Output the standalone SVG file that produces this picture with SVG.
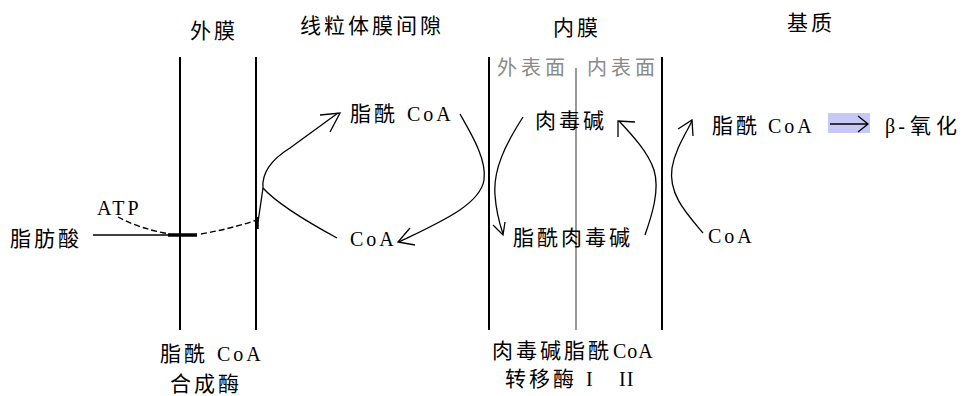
<svg xmlns="http://www.w3.org/2000/svg" width="969" height="396" viewBox="0 0 969 396">
<style>
text{font-family:"Noto Sans CJK SC","Liberation Sans",sans-serif;font-size:21px;letter-spacing:3px;fill:#000}
.l{font-family:"Liberation Serif",serif;font-size:20px;letter-spacing:3px}
.g{fill:#8a8a8a;font-size:20px;letter-spacing:4px}
.m{stroke:#000;stroke-width:2;fill:none}
.gm{stroke:#999;stroke-width:2;fill:none}
.c{stroke:#000;stroke-width:1.3;fill:none}
.d{stroke:#000;stroke-width:1.4;fill:none;stroke-dasharray:6 3}
.th{stroke:#000;stroke-width:3.5;fill:none}
</style>
<rect width="969" height="396" fill="#fff"/>
<g id="membranes">
<line class="m" x1="180" y1="57" x2="180" y2="330"/>
<line class="m" x1="256" y1="57" x2="256" y2="330"/>
<line class="m" x1="489" y1="57" x2="489" y2="330"/>
<line class="gm" x1="576" y1="68" x2="576" y2="330"/>
<line class="m" x1="662" y1="57" x2="662" y2="330"/>
</g>
<g id="titles">
<text x="190" y="38">外膜</text>
<text x="300" y="33">线粒体膜间隙</text>
<text x="553" y="35">内膜</text>
<text x="787" y="30">基质</text>
<text class="g" x="497" y="75">外表面</text>
<text class="g" x="587" y="75">内表面</text>
</g>
<g id="n-fattyacid"><text x="10" y="246">脂肪酸</text></g>
<g id="n-atp"><text class="l" x="97" y="215">ATP</text></g>
<g id="n-acylcoa-ims"><text x="350" y="121">脂酰<tspan class="l" x="407">CoA</tspan></text></g>
<g id="n-coa-ims"><text class="l" x="350" y="246">CoA</text></g>
<g id="n-carnitine"><text x="535" y="128">肉毒碱</text></g>
<g id="n-acylcarnitine"><text x="513" y="245">脂酰肉毒碱</text></g>
<g id="n-acylcoa-matrix"><text x="712" y="133">脂酰<tspan class="l" x="768">CoA</tspan></text></g>
<g id="n-coa-matrix"><text class="l" x="708" y="243">CoA</text></g>
<g id="n-beta"><rect x="828" y="113" width="42" height="20" fill="#c8c8f6"/><text x="885" y="133" style="letter-spacing:5px"><tspan class="l" style="letter-spacing:3px">β-</tspan><tspan x="910">氧化</tspan></text></g>
<g id="n-synthase"><text x="160" y="361">脂酰<tspan class="l" x="217">CoA</tspan></text><text x="170" y="391">合成酶</text></g>
<g id="n-cpt"><text x="492" y="358">肉毒碱脂酰<tspan class="l" x="613" style="letter-spacing:1px">CoA</tspan></text><text x="505" y="386">转移酶<tspan class="l" x="586">I</tspan><tspan class="l" x="619" style="letter-spacing:1px">II</tspan></text></g>
<g id="connectors">
<path class="c" d="M93 235 H180"/>
<path class="th" d="M168 235 H197"/>
<path class="d" d="M118 217 Q140 229 170 234"/>
<path class="d" d="M201 234 Q230 229 257 220"/>
<path class="th" d="M257 217 V229"/>
<path class="c" d="M258 222 L263 188"/>
<path class="c" d="M263 188 Q261 166 290 148 L338 113"/>
<path class="c" d="M320 115 L340 113 L330 132"/>
<path class="c" d="M263 188 Q280 207 337 238"/>
<path class="c" d="M460 114 C472 135 487 160 484 180 C480 205 440 222 399 242"/>
<path class="c" d="M410 228 L398 242 L415 245"/>
<path class="c" d="M523 117 C505 145 493 170 495 195 C496 210 499 222 503 234"/>
<path class="c" d="M493 225 L503 235 L505 222"/>
<path class="c" d="M645 235 C652 215 660 190 654 170 C648 152 632 135 619 121"/>
<path class="c" d="M635 122 L618 121 L618 137"/>
<path class="c" d="M703 233 C688 215 668 195 672 168 C675 150 685 135 692 121"/>
<path class="c" d="M678 129 L692 120 L693 136"/>
<path class="c" d="M830 124 H868 M858 116 L868 124 L858 132"/>
</g>
</svg>
